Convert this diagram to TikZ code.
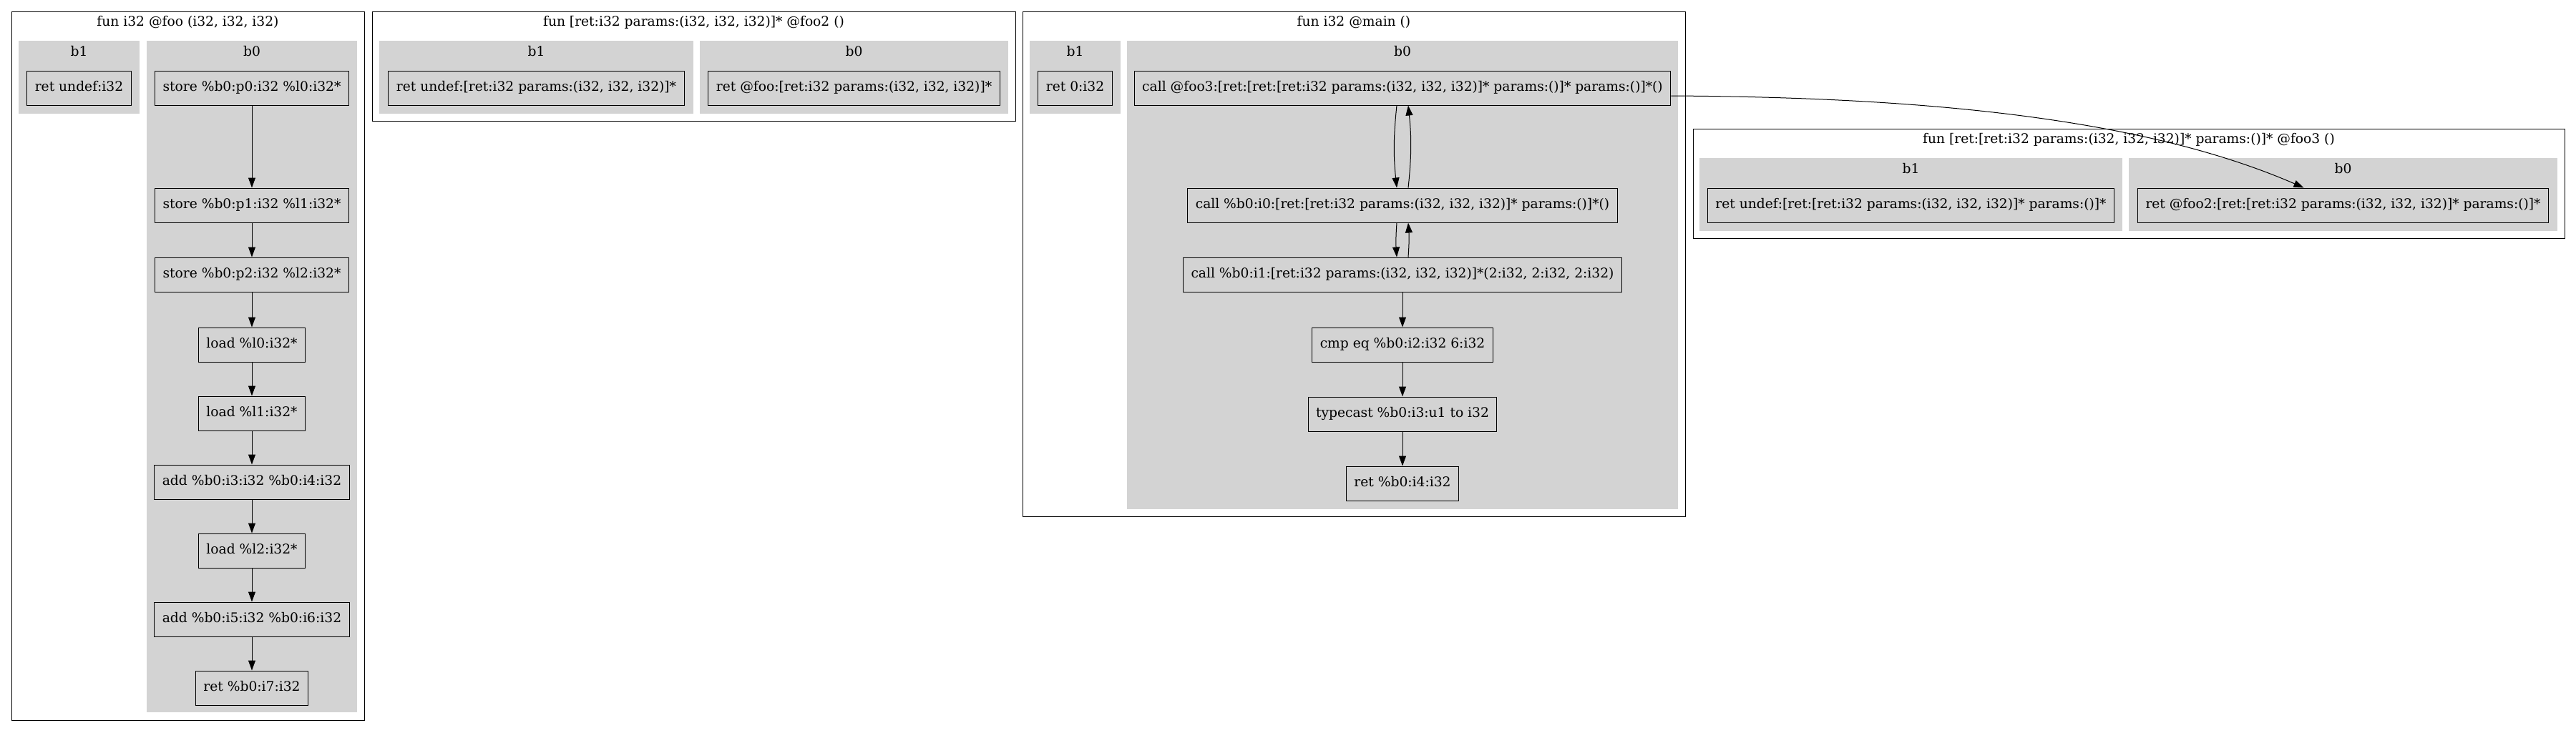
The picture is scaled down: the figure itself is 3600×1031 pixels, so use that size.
\documentclass[tikz,border=0pt]{standalone}
\usepackage{fontspec}
\setmainfont{DejaVu Serif}
\usepackage{tikz}
\usetikzlibrary{arrows.meta}
\definecolor{blockgray}{HTML}{D3D3D3}

\begin{document}
\begin{tikzpicture}[x=1pt,y=-1pt,
    every node/.style={font=\fontsize{18.67pt}{22pt}\selectfont},
    instr/.style={draw,fill=blockgray,line width=1pt,inner xsep=11pt,inner ysep=0pt,minimum height=48pt,text height=14pt,text depth=4.4pt},
    lbl/.style={anchor=base,inner sep=0pt},
    func/.style={draw,line width=1pt},
    block/.style={fill=blockgray},
    flow/.style={-{Triangle[length=14pt,width=10pt]},line width=1pt}]
\useasboundingbox (0,0) rectangle (3600,1031);

% fun i32 @foo
\draw [func] (16,16) rectangle (509,1007);
\node [lbl] (tfoo) at (262.5,36) {fun i32 @foo (i32, i32, i32)};
\fill [block] (26,57) rectangle (195,159);
\node [lbl] (fooB1) at (110.5,78) {b1};
\fill [block] (205,57) rectangle (499,996);
\node [lbl] (fooB0) at (352,78) {b0};
\node [instr] (fooRet) at (110.5,123) {ret undef:i32};
\node [instr] (st0) at (352,123) {store \%b0:p0:i32 \%l0:i32*};
\node [instr] (st1) at (352,287) {store \%b0:p1:i32 \%l1:i32*};
\node [instr] (st2) at (352,384) {store \%b0:p2:i32 \%l2:i32*};
\node [instr] (ld0) at (352,482) {load \%l0:i32*};
\node [instr] (ld1) at (352,578) {load \%l1:i32*};
\node [instr] (add0) at (352,674) {add \%b0:i3:i32 \%b0:i4:i32};
\node [instr] (ld2) at (352,770) {load \%l2:i32*};
\node [instr] (add1) at (352,866) {add \%b0:i5:i32 \%b0:i6:i32};
\node [instr] (ret7) at (352,962) {ret \%b0:i7:i32};

% fun @foo2
\draw [func] (520,16) rectangle (1419,169);
\node [lbl] (tfoo2) at (969.5,36) {fun [ret:i32 params:(i32, i32, i32)]* @foo2 ()};
\fill [block] (530,57) rectangle (969,159);
\node [lbl] (foo2B1) at (749.5,78) {b1};
\fill [block] (978,57) rectangle (1409,159);
\node [lbl] (foo2B0) at (1193.5,78) {b0};
\node [instr] (foo2Undef) at (749.5,123) {ret undef:[ret:i32 params:(i32, i32, i32)]*};
\node [instr] (foo2Ret) at (1193.5,123) {ret @foo:[ret:i32 params:(i32, i32, i32)]*};

% fun i32 @main
\draw [func] (1429,16) rectangle (2355,722);
\node [lbl] (tmain) at (1892,36) {fun i32 @main ()};
\fill [block] (1439,57) rectangle (1566,159);
\node [lbl] (mainB1) at (1502.5,78) {b1};
\fill [block] (1575,57) rectangle (2345,712);
\node [lbl] (mainB0) at (1960,78) {b0};
\node [instr] (mainRet0) at (1502.5,123) {ret 0:i32};
\node [instr] (call3) at (1960,123) {call @foo3:[ret:[ret:[ret:i32 params:(i32, i32, i32)]* params:()]* params:()]*()};
\node [instr] (callI0) at (1960,287) {call \%b0:i0:[ret:[ret:i32 params:(i32, i32, i32)]* params:()]*()};
\node [instr] (callI1) at (1960,384) {call \%b0:i1:[ret:i32 params:(i32, i32, i32)]*(2:i32, 2:i32, 2:i32)};
\node [instr] (cmp) at (1960,482) {cmp eq \%b0:i2:i32 6:i32};
\node [instr] (tcast) at (1960,579) {typecast \%b0:i3:u1 to i32};
\node [instr] (ret4) at (1960,676) {ret \%b0:i4:i32};

% fun @foo3
\draw [func] (2366,180) rectangle (3584,333);
\node [lbl] (tfoo3) at (2975,200) {fun [ret:[ret:i32 params:(i32, i32, i32)]* params:()]* @foo3 ()};
\fill [block] (2375,221) rectangle (2966,323);
\node [lbl] (foo3B1) at (2670.5,242) {b1};
\fill [block] (2975,221) rectangle (3574,323);
\node [lbl] (foo3B0) at (3274.5,242) {b0};
\node [instr] (foo3Undef) at (2670.5,287) {ret undef:[ret:[ret:i32 params:(i32, i32, i32)]* params:()]*};
\node [instr] (foo3Ret) at (3274.5,287) {ret @foo2:[ret:[ret:i32 params:(i32, i32, i32)]* params:()]*};

\draw [flow] (st0) -- (st1);
\draw [flow] (st1) -- (st2);
\draw [flow] (st2) -- (ld0);
\draw [flow] (ld0) -- (ld1);
\draw [flow] (ld1) -- (add0);
\draw [flow] (add0) -- (ld2);
\draw [flow] (ld2) -- (add1);
\draw [flow] (add1) -- (ret7);

\draw [flow] ([xshift=-8pt]call3.south) to [bend right=6] ([xshift=-8pt]callI0.north);
\draw [flow] ([xshift=8pt]callI0.north) to [bend right=6] ([xshift=8pt]call3.south);
\draw [flow] ([xshift=-8pt]callI0.south) to [bend right=4] ([xshift=-8pt]callI1.north);
\draw [flow] ([xshift=8pt]callI1.north) to [bend right=4] ([xshift=8pt]callI0.south);
\draw [flow] (callI1) -- (cmp);
\draw [flow] (cmp) -- (tcast);
\draw [flow] (tcast) -- (ret4);
\draw [flow] ([yshift=-11pt]call3.east) .. controls (2700,136) and (3000,167) .. ([xshift=-55pt]foo3Ret.north);
\end{tikzpicture}
\end{document}
